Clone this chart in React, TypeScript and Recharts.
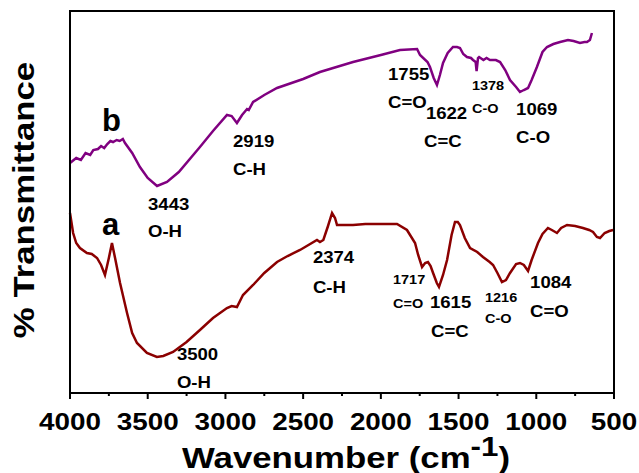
import React from "react";
import { LineChart, Line, XAxis, YAxis, ReferenceDot } from "recharts";

// Sample b (purple) — wavenumber (cm-1) and relative transmittance
const bWavenumber = [4000, 3960, 3930, 3900, 3870, 3850, 3820, 3800, 3780, 3760, 3740, 3723, 3700, 3680, 3660, 3646, 3600, 3550, 3500, 3440, 3376, 3300, 3164, 3080, 2990, 2960, 2926, 2893, 2861, 2850, 2822, 2750, 2668, 2500, 2392, 2179, 2000, 1877, 1767, 1748, 1700, 1684, 1660, 1639, 1620, 1600, 1570, 1536, 1510, 1491, 1470, 1446, 1420, 1407, 1390, 1384, 1375, 1368, 1340, 1320, 1298, 1260, 1233, 1200, 1169, 1130, 1105, 1080, 1053, 1030, 996, 960, 931, 890, 847, 796, 760, 719, 690, 674, 655, 642];
const bTransmittance = [229, 234, 232, 239, 237, 242, 243, 246, 244, 248, 251, 250, 252, 251, 253, 249, 239, 225, 214, 206, 210, 220, 245, 261, 277, 276, 269, 277, 283, 282, 290, 297, 304, 313, 320, 330, 337, 342, 343, 337, 330, 325, 314, 307, 317, 329, 339, 345, 345, 344, 338, 335, 334, 332, 330, 321, 334, 335, 332, 334, 332, 332, 330, 322, 312, 305, 300, 302, 304, 312, 325, 340, 345, 348, 350, 352, 351, 349, 350, 350, 352, 359];

// Sample a (dark red)
const aWavenumber = [4000, 3980, 3960, 3936, 3891, 3860, 3826, 3800, 3775, 3750, 3730, 3710, 3678, 3633, 3600, 3569, 3505, 3441, 3400, 3337, 3250, 3164, 3080, 2990, 2960, 2926, 2887, 2822, 2750, 2668, 2600, 2520, 2411, 2392, 2370, 2340, 2314, 2295, 2282, 2250, 2179, 2100, 2000, 1896, 1832, 1780, 1760, 1735, 1715, 1697, 1680, 1664, 1640, 1626, 1600, 1574, 1545, 1523, 1505, 1491, 1460, 1426, 1380, 1343, 1300, 1278, 1250, 1221, 1195, 1169, 1130, 1105, 1080, 1053, 1030, 989, 960, 925, 900, 867, 840, 802, 750, 700, 660, 635, 610, 590, 560, 530, 506];
const aTransmittance = [179, 159, 149, 144, 139, 138, 134, 127, 117, 134, 149, 134, 109, 79, 59, 49, 39, 35, 36, 40, 50, 62, 74, 84, 86, 85, 97, 107, 119, 130, 136, 142, 152, 150, 152, 166, 179, 174, 167, 167, 167, 168, 168, 168, 162, 149, 137, 125, 129, 130, 126, 119, 109, 105, 117, 132, 157, 170, 170, 167, 154, 144, 140, 135, 130, 127, 119, 110, 112, 119, 128, 129, 127, 121, 132, 149, 158, 164, 162, 159, 164, 167, 166, 164, 162, 160, 155, 154, 159, 161, 162];

const majorTicks = [4000, 3500, 3000, 2500, 2000, 1500, 1000, 500];
const allTicks = [4000, 3750, 3500, 3250, 3000, 2750, 2500, 2250, 2000, 1750, 1500, 1250, 1000, 750, 500];

// Annotations: [text, wavenumber, transmittance, kind]
const annotations: [string, number, number, string][] = [
  ["b", 3794, 261, "big"],
  ["a", 3794, 157, "big"],
  ["3443", 3498, 182, "n"],
  ["O-H", 3498, 155, "n"],
  ["2919", 2951, 245, "n"],
  ["C-H", 2951, 217, "n"],
  ["1755", 1954, 312, "n"],
  ["C=O", 1954, 284, "n"],
  ["1622", 1710, 273, "n"],
  ["C=C", 1722, 245, "n"],
  ["1378", 1414, 302, "s"],
  ["C-O", 1414, 279, "s"],
  ["1069", 1130, 277, "n"],
  ["C-O", 1130, 249, "n"],
  ["2374", 2437, 129, "n"],
  ["C-H", 2437, 99, "n"],
  ["1717", 1922, 108, "s"],
  ["C=O", 1922, 84, "s"],
  ["1615", 1684, 84, "n"],
  ["C=C", 1677, 55, "n"],
  ["1216", 1330, 90, "s"],
  ["C-O", 1330, 69, "s"],
  ["1084", 1040, 104, "n"],
  ["C=O", 1040, 75, "n"],
  ["3500", 3312, 32, "n"],
  ["O-H", 3312, 4, "n"],
];

const X_MIN = 500;
const X_MAX = 4000;
const Y_MIN = -1;
const Y_MAX = 381;

const CHART_W = 639;
const CHART_H = 473;
const MARGIN = { top: 11, right: 25, bottom: 20, left: 69 };

const dataB = bWavenumber.map((wn, i) => ({ wn, t: bTransmittance[i] }));
const dataA = aWavenumber.map((wn, i) => ({ wn, t: aTransmittance[i] }));

const FONT = "'Liberation Sans', Arial, sans-serif";
const SX = 1.16;

const NoTick = () => <g />;

const XTick = (props: any) => {
  const { x, y, payload } = props;
  const v = payload.value;
  const major = majorTicks.includes(v);
  return (
    <g>
      <line x1={x} y1={y} x2={x} y2={y + (major ? 6 : 3)} stroke="#000" strokeWidth={2} />
      {major && (
        <text
          transform={`translate(${x},${y + 37}) scale(${SX},1)`}
          textAnchor="middle"
          fontFamily={FONT}
          fontWeight="bold"
          fontSize={24}
          fill="#000"
        >
          {v}
        </text>
      )}
    </g>
  );
};

const XTitle = (props: any) => {
  const vb = props.viewBox;
  const cx = vb.x + vb.width / 2 + 4;
  const y = vb.y + 75;
  return (
    <text
      transform={`translate(${cx},${y}) scale(${SX},1)`}
      textAnchor="middle"
      fontFamily={FONT}
      fontWeight="bold"
      fontSize={30}
      fill="#000"
    >
      Wavenumber (cm
      <tspan dy={-12} fontSize={27}>-1</tspan>
      <tspan dy={12}>)</tspan>
    </text>
  );
};

// Y title plus the plot frame (left / top / right border) derived from the axis box
const YTitle = (props: any) => {
  const vb = props.viewBox;
  const cy = vb.y + vb.height / 2 - 2;
  const x = vb.x + vb.width - 36;
  const left = vb.x + vb.width;
  const right = CHART_W - MARGIN.right;
  const top = vb.y;
  const bottom = vb.y + vb.height;
  return (
    <g>
      <path
        d={`M${left},${bottom} L${left},${top} L${right},${top} L${right},${bottom}`}
        fill="none"
        stroke="#000"
        strokeWidth={2}
      />
      <text
        transform={`translate(${x},${cy}) rotate(-90) scale(${SX},1)`}
        textAnchor="middle"
        fontFamily={FONT}
        fontWeight="bold"
        fontSize={30}
        fill="#000"
      >
        % Transmittance
      </text>
    </g>
  );
};

const makeLabel = (text: string, kind: string) => (props: any) => {
  const vb = props.viewBox;
  const x = vb.x + (vb.width || 0) / 2;
  const y = vb.y + (vb.height || 0) / 2;
  if (kind === "big") {
    return (
      <text x={x} y={y} fontFamily={FONT} fontWeight="bold" fontSize={31} fill="#000">
        {text}
      </text>
    );
  }
  const fs = kind === "s" ? 12.5 : 16;
  return (
    <text
      transform={`translate(${x},${y}) scale(${SX},1)`}
      fontFamily={FONT}
      fontWeight="bold"
      fontSize={fs}
      fill="#000"
    >
      {text}
    </text>
  );
};

export default function App() {
  return (
    <div style={{ position: "fixed", left: 0, top: 0, width: CHART_W, height: CHART_H, background: "#fff" }}>
      <LineChart width={CHART_W} height={CHART_H} margin={MARGIN}>
        <XAxis
          type="number"
          dataKey="wn"
          domain={[X_MIN, X_MAX]}
          reversed
          ticks={allTicks}
          interval={0}
          height={60}
          tickLine={false}
          tickSize={0}
          tickMargin={0}
          tick={XTick}
          axisLine={{ stroke: "#000", strokeWidth: 2 }}
          label={{ content: XTitle }}
        />
        <YAxis
          type="number"
          domain={[Y_MIN, Y_MAX]}
          width={1}
          ticks={[Y_MIN, Y_MAX]}
          tick={NoTick}
          tickLine={false}
          axisLine={false}
          label={{ content: YTitle }}
        />
        <Line
          data={dataB}
          dataKey="t"
          type="linear"
          stroke="#800080"
          strokeWidth={2.5}
          dot={false}
          isAnimationActive={false}
        />
        <Line
          data={dataA}
          dataKey="t"
          type="linear"
          stroke="#8B0000"
          strokeWidth={2.5}
          dot={false}
          isAnimationActive={false}
        />
        {annotations.map(([text, wn, t, kind], i) => (
          <ReferenceDot
            key={i}
            x={wn}
            y={t}
            r={0}
            fill="none"
            stroke="none"
            label={{ content: makeLabel(text, kind) }}
          />
        ))}
      </LineChart>
    </div>
  );
}
